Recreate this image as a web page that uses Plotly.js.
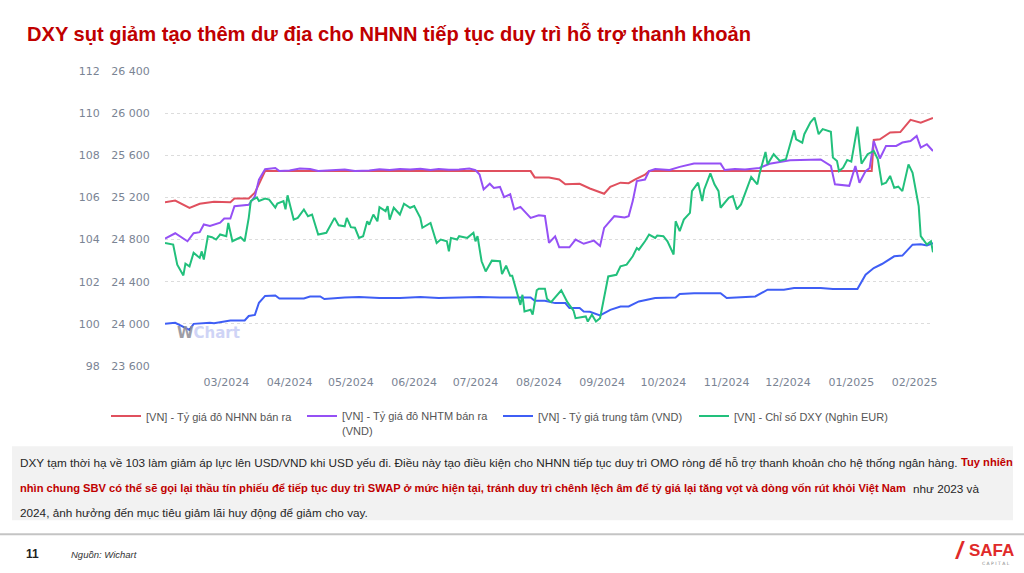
<!DOCTYPE html>
<html>
<head>
<meta charset="utf-8">
<script src="https://cdn.plot.ly/plotly-3.0.1.min.js"></script>
<style>
html,body{margin:0;padding:0;background:#fff;}
#chart{width:1024px;height:573px;}
</style>
</head>
<body>
<div id="chart"></div>
<script>
// ---------- DATA ----------
const redDates = ['2024-01-31','2024-02-05','2024-02-12','2024-02-17','2024-02-24','2024-03-03','2024-03-05','2024-03-12','2024-03-15','2024-03-17','2024-03-20','2024-07-28','2024-07-30','2024-08-06','2024-08-11','2024-08-14','2024-08-21','2024-08-26','2024-08-31','2024-09-02','2024-09-05','2024-09-10','2024-09-14','2024-09-17','2024-09-22','2024-09-24','2025-01-11','2025-01-12','2025-01-15','2025-01-20','2025-01-25','2025-01-30','2025-02-04','2025-02-10'];
const redValues = [25155,25170,25100,25140,25160,25155,25190,25190,25245,25330,25450,25450,25390,25390,25370,25325,25330,25285,25250,25235,25300,25340,25335,25370,25415,25450,25450,25745,25752,25816,25820,25936,25910,25955];

const purpleDates = ['2024-01-31','2024-02-05','2024-02-11','2024-02-14','2024-02-17','2024-02-19','2024-02-22','2024-02-27','2024-02-29','2024-03-03','2024-03-05','2024-03-08','2024-03-12','2024-03-15','2024-03-17','2024-03-20','2024-03-25','2024-03-27','2024-04-01','2024-04-06','2024-04-11','2024-04-15','2024-04-21','2024-04-28','2024-05-03','2024-05-10','2024-05-15','2024-05-20','2024-05-25','2024-05-30','2024-06-04','2024-06-09','2024-06-13','2024-06-18','2024-06-23','2024-06-28','2024-07-01','2024-07-03','2024-07-05','2024-07-08','2024-07-10','2024-07-13','2024-07-15','2024-07-18','2024-07-20','2024-07-23','2024-07-28','2024-08-01','2024-08-04','2024-08-06','2024-08-09','2024-08-11','2024-08-16','2024-08-19','2024-08-23','2024-08-28','2024-08-31','2024-09-02','2024-09-07','2024-09-12','2024-09-14','2024-09-16','2024-09-18','2024-09-22','2024-09-24','2024-09-27','2024-10-04','2024-10-09','2024-10-16','2024-10-29','2024-10-31','2024-11-05','2024-11-10','2024-11-17','2024-11-22','2024-12-02','2024-12-17','2024-12-22','2024-12-24','2024-12-31','2025-01-03','2025-01-05','2025-01-08','2025-01-10','2025-01-12','2025-01-15','2025-01-18','2025-01-23','2025-01-26','2025-01-30','2025-02-02','2025-02-04','2025-02-07','2025-02-10'];
const purpleValues = [24810,24860,24784,24860,24870,24943,24930,24960,25000,25000,25117,25125,25130,25210,25370,25467,25480,25450,25455,25475,25470,25450,25460,25465,25450,25455,25468,25460,25470,25465,25472,25460,25470,25462,25465,25475,25460,25418,25276,25330,25290,25300,25203,25230,25086,25110,25006,25030,25024,24768,24830,24727,24727,24800,24760,24790,24740,24911,25022,25010,25022,25165,25355,25370,25450,25470,25460,25490,25521,25521,25460,25470,25465,25480,25520,25553,25560,25500,25324,25310,25498,25340,25450,25480,25736,25570,25689,25689,25721,25736,25784,25673,25705,25641];

const blueDates = ['2024-01-31','2024-02-05','2024-02-12','2024-02-14','2024-02-22','2024-02-24','2024-03-03','2024-03-10','2024-03-12','2024-03-15','2024-03-17','2024-03-20','2024-03-25','2024-03-27','2024-04-08','2024-04-11','2024-04-16','2024-04-18','2024-04-28','2024-05-05','2024-05-15','2024-05-25','2024-06-04','2024-06-13','2024-06-23','2024-07-03','2024-07-13','2024-07-28','2024-07-30','2024-08-04','2024-08-09','2024-08-14','2024-08-16','2024-08-21','2024-08-23','2024-08-26','2024-08-31','2024-09-05','2024-09-10','2024-09-14','2024-09-19','2024-09-27','2024-10-07','2024-10-09','2024-10-16','2024-10-29','2024-11-01','2024-11-05','2024-11-15','2024-11-21','2024-11-29','2024-12-04','2024-12-17','2024-12-23','2025-01-04','2025-01-08','2025-01-12','2025-01-16','2025-01-18','2025-01-22','2025-01-26','2025-01-31','2025-02-04','2025-02-07','2025-02-10'];
const blueValues = [24000,24010,23943,24000,24010,24005,24032,24032,24075,24085,24200,24265,24270,24240,24240,24260,24260,24235,24250,24255,24245,24245,24255,24245,24250,24255,24250,24250,24220,24220,24197,24197,24150,24150,24118,24115,24080,24133,24165,24165,24213,24245,24250,24283,24290,24290,24245,24250,24260,24324,24324,24340,24340,24330,24330,24467,24530,24568,24593,24641,24648,24752,24755,24745,24765];

const greenDates = ['2024-01-31','2024-02-04','2024-02-06','2024-02-09','2024-02-10','2024-02-12','2024-02-14','2024-02-15','2024-02-17','2024-02-18','2024-02-19','2024-02-21','2024-02-23','2024-02-25','2024-02-27','2024-03-01','2024-03-02','2024-03-04','2024-03-08','2024-03-10','2024-03-12','2024-03-13','2024-03-16','2024-03-17','2024-03-20','2024-03-22','2024-03-25','2024-03-26','2024-03-29','2024-03-30','2024-03-31','2024-04-03','2024-04-05','2024-04-08','2024-04-10','2024-04-12','2024-04-15','2024-04-19','2024-04-23','2024-04-25','2024-04-28','2024-04-29','2024-05-01','2024-05-03','2024-05-05','2024-05-07','2024-05-09','2024-05-10','2024-05-12','2024-05-14','2024-05-15','2024-05-18','2024-05-19','2024-05-20','2024-05-22','2024-05-25','2024-05-27','2024-05-30','2024-06-01','2024-06-04','2024-06-05','2024-06-09','2024-06-12','2024-06-14','2024-06-17','2024-06-18','2024-06-19','2024-06-22','2024-06-23','2024-06-27','2024-06-30','2024-07-01','2024-07-02','2024-07-04','2024-07-06','2024-07-09','2024-07-13','2024-07-14','2024-07-16','2024-07-18','2024-07-19','2024-07-23','2024-07-24','2024-07-25','2024-07-28','2024-07-29','2024-07-31','2024-08-01','2024-08-04','2024-08-05','2024-08-07','2024-08-12','2024-08-15','2024-08-18','2024-08-19','2024-08-24','2024-08-25','2024-08-27','2024-08-29','2024-08-31','2024-09-02','2024-09-04','2024-09-08','2024-09-10','2024-09-13','2024-09-16','2024-09-18','2024-09-19','2024-09-22','2024-09-24','2024-09-27','2024-09-28','2024-10-01','2024-10-03','2024-10-06','2024-10-07','2024-10-09','2024-10-11','2024-10-14','2024-10-15','2024-10-18','2024-10-20','2024-10-21','2024-10-24','2024-10-26','2024-10-28','2024-10-29','2024-11-02','2024-11-04','2024-11-06','2024-11-08','2024-11-11','2024-11-13','2024-11-16','2024-11-17','2024-11-20','2024-11-21','2024-11-24','2024-11-27','2024-11-30','2024-12-04','2024-12-05','2024-12-08','2024-12-09','2024-12-12','2024-12-14','2024-12-16','2024-12-18','2024-12-22','2024-12-23','2024-12-25','2024-12-26','2024-12-28','2024-12-30','2025-01-01','2025-01-04','2025-01-06','2025-01-09','2025-01-12','2025-01-14','2025-01-16','2025-01-18','2025-01-20','2025-01-22','2025-01-24','2025-01-26','2025-01-29','2025-01-31','2025-02-03','2025-02-04','2025-02-07','2025-02-09','2025-02-10'];
const greenValues = [103.84,103.76,102.81,102.30,102.86,102.73,103.37,103.29,103.13,103.44,103.05,104.16,104.11,104.00,104.24,104.16,104.79,103.92,104.11,103.92,105.03,105.83,106.00,105.83,105.95,105.90,105.52,105.71,105.83,105.44,106.10,104.95,105.03,105.43,105.11,105.19,104.24,104.32,105.03,104.68,104.63,105.03,104.59,104.56,104.08,104.16,104.87,104.71,105.19,104.87,105.54,105.35,105.59,104.95,105.51,105.19,105.70,105.51,105.59,105.03,104.56,104.79,103.84,104.00,103.92,103.44,104.08,104.00,104.16,104.08,104.32,103.92,104.16,102.97,102.49,103.00,102.97,102.36,102.76,102.28,102.28,100.90,101.38,100.59,100.67,100.44,101.59,101.67,101.67,101.19,101.03,101.59,101.03,100.63,100.27,100.35,100.11,100.43,100.11,100.27,101.22,102.25,102.33,102.73,102.81,103.21,103.60,103.52,103.92,104.24,104.08,104.19,104.16,103.92,103.29,104.87,104.40,104.95,105.27,106.30,106.70,105.83,106.38,107.14,106.62,106.30,105.51,105.98,106.06,105.43,105.67,106.46,106.97,106.62,107.10,108.16,107.57,108.05,107.73,107.81,109.19,108.76,108.60,109.00,109.56,109.79,109.00,109.24,109.12,107.89,107.73,107.25,107.41,107.78,107.70,109.36,107.60,108.05,108.21,107.81,106.62,106.70,107.02,106.46,106.51,106.30,107.57,107.17,105.59,104.16,103.76,103.92,103.40];

const seriesNames = [
  '[VN] - Tỷ giá đô NHNN bán ra',
  '[VN] - Tỷ giá đô NHTM bán ra<br>(VND)',
  '[VN] - Tỷ giá trung tâm (VND)',
  '[VN] - Chỉ số DXY (Nghìn EUR)'
];
const monthTicks = ['2024-03-01','2024-04-01','2024-05-01','2024-06-01','2024-07-01','2024-08-01','2024-09-01','2024-10-01','2024-11-01','2024-12-01','2025-01-01','2025-02-01'];
const monthLabels = ['03/2024','04/2024','05/2024','06/2024','07/2024','08/2024','09/2024','10/2024','11/2024','12/2024','01/2025','02/2025'];
const vndTicks = [23600,24000,24400,24800,25200,25600,26000,26400];
const vndLabels = ['23 600','24 000','24 400','24 800','25 200','25 600','26 000','26 400'];
const dxyTicks = [98,100,102,104,106,108,110,112];
const dxyLabels = ['98','100','102','104','106','108','110','112'];

const titleText = 'DXY sụt giảm tạo thêm dư địa cho NHNN tiếp tục duy trì hỗ trợ thanh khoản';
const body1 = 'DXY tạm thời hạ về 103 làm giảm áp lực lên USD/VND khi USD yếu đi. Điều này tạo điều kiện cho NHNN tiếp tục duy trì OMO ròng để hỗ trợ thanh khoản cho hệ thống ngân hàng.';
const body1Red = 'Tuy nhiên';
const body2Red = 'nhìn chung SBV có thể sẽ gọi lại thầu tín phiếu để tiếp tục duy trì SWAP ở mức hiện tại, tránh duy trì chênh lệch âm để tỷ giá lại tăng vọt và dòng vốn rút khỏi Việt Nam';
const body2 = 'như 2023 và';
const body3 = '2024, ảnh hưởng đến mục tiêu giảm lãi huy động để giảm cho vay.';

// ---------- LAYOUT HELPERS (pixel -> paper) ----------
const L = 165, R = 933, T = 71, B = 366.5;
const W = R - L, H = B - T;
const px = v => (v - L) / W;
const py = v => (B - v) / H;

const tickFont = {family: 'DejaVu Sans, sans-serif', size: 11, color: '#7a8494'};
const sans = 'Liberation Sans, Arial, sans-serif';
const bodyFont = {family: sans, size: 11.75, color: '#262626'};
const redFont = {family: sans, size: 11.15, color: '#c00000', weight: 'bold'};

const traces = [
  {x: redDates, y: redValues, name: seriesNames[0], type: 'scatter', mode: 'lines', line: {color: '#e0505e', width: 2}, yaxis: 'y'},
  {x: purpleDates, y: purpleValues, name: seriesNames[1], type: 'scatter', mode: 'lines', line: {color: '#9550f5', width: 2}, yaxis: 'y'},
  {x: blueDates, y: blueValues, name: seriesNames[2], type: 'scatter', mode: 'lines', line: {color: '#3f5ef5', width: 2}, yaxis: 'y'},
  {x: greenDates, y: greenValues, name: seriesNames[3], type: 'scatter', mode: 'lines', line: {color: '#22c07c', width: 2}, yaxis: 'y2'}
];

const ann = (x, y, text, font, xanchor) => ({xref: 'paper', yref: 'paper', x: px(x), y: py(y), xanchor: xanchor || 'left', yanchor: 'middle',
  showarrow: false, align: 'left', text: text, font: font});

const annotations = [
  Object.assign(ann(175, 333, '<b><span style="color:#8c8c96">W</span><span style="color:#c7cdf5">Chart</span></b>', {family: 'DejaVu Sans, sans-serif', size: 15}), {opacity: 0.85}),
  ann(18, 463, body1, bodyFont),
  ann(959, 463, '<b>' + body1Red + '</b>', redFont),
  ann(18, 489, '<b>' + body2Red + '</b>', redFont),
  ann(911, 489, body2, bodyFont),
  ann(18, 513, body3, bodyFont),
  ann(24, 555, '<b>11</b>', {family: sans, size: 12, color: '#222'}),
  ann(69, 555, '<i>Nguồn: Wichart</i>', {family: sans, size: 9.5, color: '#333'}),
  ann(953, 551, '<b><i>/</i></b>', {family: sans, size: 24, color: '#e02a2a'}),
  ann(967, 551, '<b>SAFA</b>', {family: sans, size: 17, color: '#e02a2a'}),
  ann(1012, 564, 'C A P I T A L', {family: 'DejaVu Sans, sans-serif', size: 4.5, color: '#888'}, 'right')
];

const shapes = [
  {type: 'rect', xref: 'paper', yref: 'paper', x0: px(12), x1: px(1013), y0: py(521), y1: py(447), fillcolor: '#f2f2f2', line: {width: 0}, layer: 'below'},
  {type: 'line', xref: 'paper', yref: 'paper', x0: px(0), x1: px(1024), y0: py(535), y1: py(535), line: {color: '#c4c4c4', width: 2}}
];

const layout = {
  width: 1024, height: 573,
  margin: {l: L, r: 1024 - R, t: T, b: 573 - B, pad: 0},
  paper_bgcolor: '#ffffff', plot_bgcolor: '#ffffff',
  title: {text: titleText, xref: 'container', yref: 'container', x: 27 / 1024, xanchor: 'left', y: 1 - 34 / 573, yanchor: 'middle',
          font: {family: sans, size: 20.1, color: '#c00000', weight: 'bold'}},
  showlegend: true,
  legend: {orientation: 'h', x: px(106), xanchor: 'left', y: py(403), yanchor: 'top', itemwidth: 30,
           entrywidth: 151, entrywidthmode: 'pixels', font: {family: sans, size: 11, color: '#555'},
           bgcolor: 'rgba(0,0,0,0)', traceorder: 'normal', valign: 'top'},
  xaxis: {type: 'date', range: ['2024-01-31', '2025-02-10'], tickmode: 'array', tickvals: monthTicks, ticktext: monthLabels,
          showgrid: false, zeroline: false, showline: false, ticks: 'outside', ticklen: 6, tickcolor: 'rgba(0,0,0,0)', tickfont: tickFont, fixedrange: true},
  yaxis: {range: [23600, 26400], tickmode: 'array', tickvals: vndTicks, ticktext: vndLabels, side: 'left',
          showgrid: true, gridcolor: '#dcdcdc', griddash: 'dot', gridwidth: 1, zeroline: false, showline: false,
          ticks: 'outside', ticklen: 12, tickcolor: 'rgba(0,0,0,0)', tickfont: tickFont},
  yaxis2: {range: [98, 112], tickmode: 'array', tickvals: dxyTicks, ticktext: dxyLabels, overlaying: 'y', side: 'left', anchor: 'free', position: 0,
           showgrid: false, zeroline: false, showline: false, ticks: 'outside', ticklen: 63, tickcolor: 'rgba(0,0,0,0)', tickfont: tickFont},
  annotations: annotations,
  shapes: shapes,
  hovermode: false
};

Plotly.newPlot('chart', traces, layout, {displayModeBar: false, staticPlot: true});
</script>
</body>
</html>
